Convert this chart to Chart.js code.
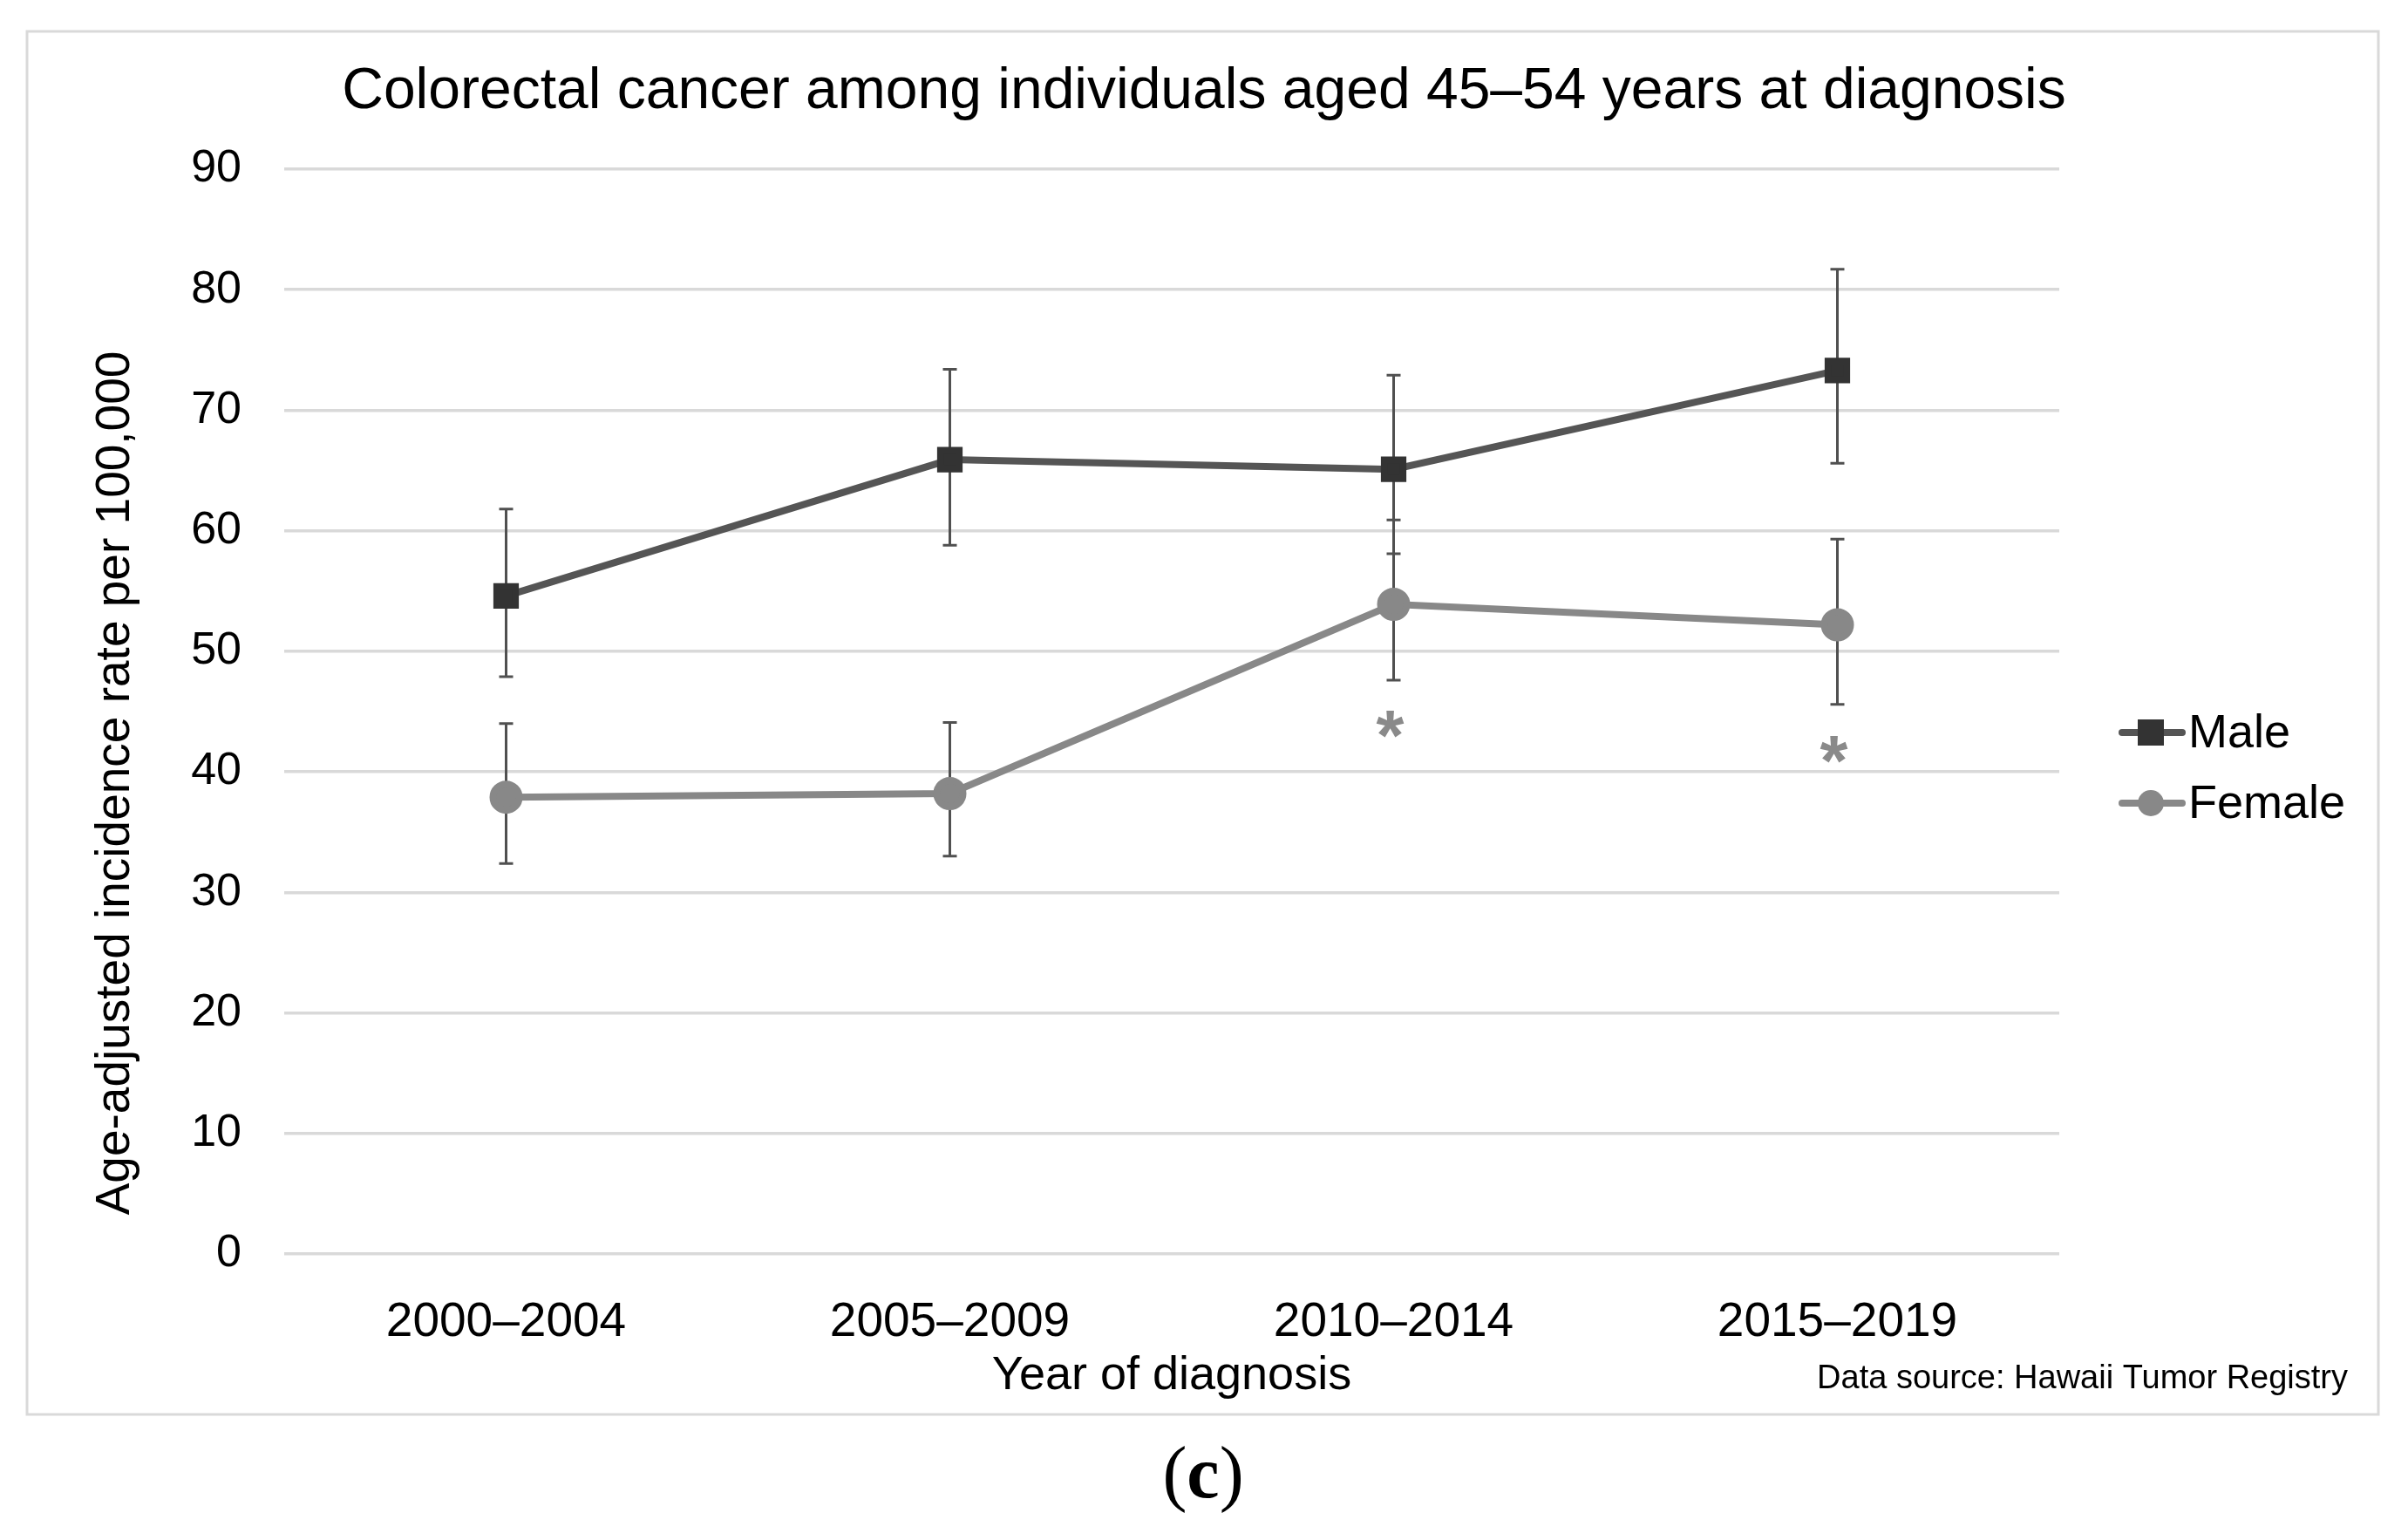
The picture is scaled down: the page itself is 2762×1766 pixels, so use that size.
<!DOCTYPE html>
<html>
<head>
<meta charset="utf-8">
<script src="https://cdn.jsdelivr.net/npm/chart.js@4/dist/chart.umd.min.js"></script>
<style>
  html, body { margin: 0; padding: 0; background: #fff; overflow: hidden; }
  #mycanvas { display: block; }
</style>
</head>
<body>
<canvas id="mycanvas" width="2762" height="1766" style="width:2762px;height:1766px"></canvas>
<script>
// values
var periods = ['2000\u20132004', '2005\u20132009', '2010\u20132014', '2015\u20132019'];
var maleRate = [54.6, 65.9, 65.1, 73.3];
var maleLow = [47.9, 58.8, 58.1, 65.6];
var maleHigh = [61.8, 73.4, 72.9, 81.7];
var femaleRate = [37.9, 38.2, 53.9, 52.2];
var femaleLow = [32.4, 33.0, 47.6, 45.6];
var femaleHigh = [44.0, 44.1, 60.9, 59.3];
// significance marks for female series (y value where the * sits)
var starAt = [null, null, 43.7, 41.6];
var yTicks = [0, 10, 20, 30, 40, 50, 60, 70, 80, 90];

var FONT = '"Liberation Sans", Arial, sans-serif';

var extras = {
  id: 'extras',
  beforeDatasetsDraw: function(chart) {
    var ctx = chart.ctx, x = chart.scales.x, y = chart.scales.y;
    ctx.save();
    ctx.strokeStyle = '#505050';
    ctx.lineWidth = 3;
    function bars(low, high) {
      for (var i = 0; i < low.length; i++) {
        var px = x.getPixelForValue(i);
        var y1 = y.getPixelForValue(low[i]), y2 = y.getPixelForValue(high[i]);
        ctx.beginPath();
        ctx.moveTo(px, y1); ctx.lineTo(px, y2);
        ctx.moveTo(px - 8, y1); ctx.lineTo(px + 8, y1);
        ctx.moveTo(px - 8, y2); ctx.lineTo(px + 8, y2);
        ctx.stroke();
      }
    }
    bars(femaleLow, femaleHigh);
    bars(maleLow, maleHigh);
    ctx.restore();
  },
  afterDraw: function(chart) {
    var ctx = chart.ctx, x = chart.scales.x, y = chart.scales.y;
    var area = chart.chartArea;
    ctx.save();
    // frame
    ctx.strokeStyle = '#d9d9d9';
    ctx.lineWidth = 3;
    ctx.strokeRect(31, 36, 2697, 1586);

    // title
    ctx.fillStyle = '#000';
    ctx.textAlign = 'center';
    ctx.textBaseline = 'alphabetic';
    ctx.font = '66px ' + FONT;
    ctx.fillText('Colorectal cancer among individuals aged 45\u201354 years at diagnosis', 1381, 124);

    // axis titles
    ctx.font = '54px ' + FONT;
    ctx.textBaseline = 'middle';
    ctx.fillText('Year of diagnosis', (area.left + area.right) / 2, 1578);
    ctx.save();
    ctx.translate(133, 898);
    ctx.rotate(-Math.PI / 2);
    ctx.font = '55px ' + FONT;
    ctx.fillText('Age-adjusted incidence rate per 100,000', 0, 0);
    ctx.restore();

    // data source
    ctx.font = '38px ' + FONT;
    ctx.textAlign = 'right';
    ctx.fillText('Data source: Hawaii Tumor Registry', 2693, 1582);

    // asterisks
    ctx.fillStyle = '#8a8a8a';
    ctx.textAlign = 'center';
    ctx.font = 'bold 82px ' + FONT;
    for (var i = 0; i < starAt.length; i++) {
      if (starAt[i] == null) continue;
      ctx.fillText('*', x.getPixelForValue(i) - 4, y.getPixelForValue(starAt[i]) + 14);
    }

    // legend
    var items = [
      { label: 'Male', line: '#555555', fill: '#333333', shape: 'rect', y: 840 },
      { label: 'Female', line: '#888888', fill: '#888888', shape: 'circle', y: 921 }
    ];
    items.forEach(function(it) {
      ctx.strokeStyle = it.line;
      ctx.lineWidth = 8;
      ctx.lineCap = 'round';
      ctx.beginPath();
      ctx.moveTo(2434, it.y); ctx.lineTo(2503, it.y);
      ctx.stroke();
      ctx.fillStyle = it.fill;
      if (it.shape === 'rect') {
        ctx.fillRect(2467 - 15, it.y - 15, 30, 30);
      } else {
        ctx.beginPath();
        ctx.arc(2467, it.y, 15, 0, Math.PI * 2);
        ctx.fill();
      }
      ctx.fillStyle = '#000';
      ctx.textAlign = 'left';
      ctx.textBaseline = 'middle';
      ctx.font = '54px ' + FONT;
      ctx.fillText(it.label, 2510, it.y + 2);
    });

    // panel label
    ctx.textBaseline = 'alphabetic';
    ctx.textAlign = 'left';
    var serif = '"Liberation Serif", "Times New Roman", serif';
    ctx.font = '84px ' + serif;
    var p1 = ctx.measureText('(').width;
    ctx.font = 'bold 84px ' + serif;
    var cw = ctx.measureText('c').width;
    var sx = 1380 - (p1 * 2 + cw) / 2;
    ctx.font = '84px ' + serif;
    ctx.fillText('(', sx, 1717);
    ctx.fillText(')', sx + p1 + cw, 1717);
    ctx.font = 'bold 84px ' + serif;
    ctx.fillText('c', sx + p1, 1717);
    ctx.restore();
  }
};

var chartdata = {
  labels: periods,
  datasets: [
    {
      label: 'Male',
      data: maleRate,
      borderColor: '#555555',
      backgroundColor: '#333333',
      pointBackgroundColor: '#333333',
      pointBorderColor: '#333333',
      pointStyle: 'rect',
      pointRadius: 15,
      borderWidth: 8,
      tension: 0
    },
    {
      label: 'Female',
      data: femaleRate,
      borderColor: '#888888',
      backgroundColor: '#888888',
      pointBackgroundColor: '#888888',
      pointBorderColor: '#888888',
      pointStyle: 'circle',
      pointRadius: 15,
      borderWidth: 8,
      tension: 0
    }
  ]
};

var ctx = document.getElementById('mycanvas');
var lineGraph = new Chart(ctx, {
  type: 'line',
  data: chartdata,
  plugins: [extras],
  options: {
    responsive: false,
    animation: false,
    devicePixelRatio: 1,
    layout: { padding: { top: 194, left: 200, right: 400, bottom: 228 } },
    plugins: {
      legend: { display: false },
      title: { display: false },
      tooltip: { enabled: false }
    },
    scales: {
      x: {
        offset: true,
        grid: { display: false, drawTicks: false },
        border: { display: false },
        ticks: { color: '#000', font: { family: FONT, size: 55 }, padding: 46, maxRotation: 0 },
        afterFit: function(scale) { scale.height = 100; }
      },
      y: {
        min: 0,
        max: 90,
        afterBuildTicks: function(scale) {
          scale.ticks = yTicks.map(function(v) { return { value: v }; });
        },
        grid: { color: '#d9d9d9', lineWidth: 3.5, drawTicks: false },
        border: { display: false },
        ticks: { color: '#000', font: { family: FONT, size: 52 }, padding: 49 },
        afterFit: function(scale) { scale.width = 126; }
      }
    }
  }
});
</script>
</body>
</html>
